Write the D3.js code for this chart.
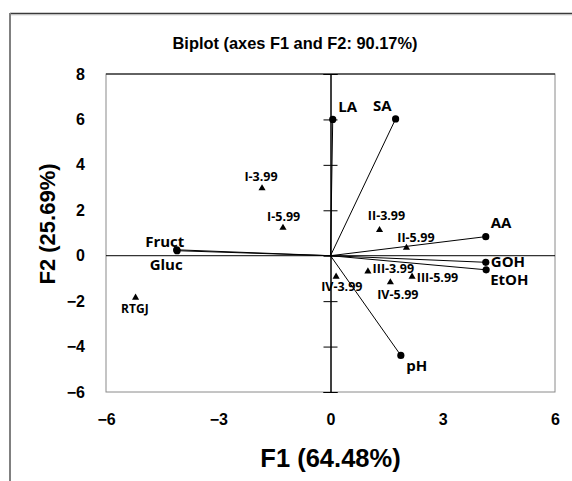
<!DOCTYPE html>
<html><head><meta charset="utf-8">
<script src="https://cdn.jsdelivr.net/npm/d3@7"></script>
<style>body{margin:0;background:#fff}svg{display:block}</style>
</head><body>
<script>
// ---- data ----
const varNames = ["LA","SA","AA","GOH","EtOH","pH","Fruct","Gluc"];
const varF1 = [0.06, 1.74, 4.15, 4.15, 4.16, 1.88, -4.11, -4.10];
const varF2 = [6.00, 6.02, 0.84, -0.29, -0.62, -4.39, 0.26, 0.22];
const obsNames = ["RTGJ","I-3.99","I-5.99","II-3.99","II-5.99","III-3.99","III-5.99","IV-3.99","IV-5.99"];
const obsF1 = [-5.21, -1.83, -1.27, 1.31, 2.03, 1.00, 2.18, 0.15, 1.60];
const obsF2 = [-1.85, 2.97, 1.23, 1.13, 0.35, -0.69, -0.92, -0.92, -1.17];
const xTicks = [-6,-3,0,3,6];
const yTicks = [-6,-4,-2,0,2,4,6,8];
const titleText = "Biplot (axes F1 and F2: 90.17%)";
const xTitle = "F1 (64.48%)";
const yTitle = "F2 (25.69%)";

// ---- label layout (pixel offsets, anchors) ----
const varLabelLayout = {
  LA:{dx:5.5,dy:-7.5,a:"start"}, SA:{dx:-4,dy:-8,a:"end"}, AA:{dx:5,dy:-9,a:"start"},
  GOH:{dx:5,dy:4.5,a:"start"}, EtOH:{dx:4,dy:15,a:"start"}, pH:{dx:5.3,dy:15.4,a:"start"},
  Fruct:{dx:7.6,dy:-3.3,a:"end"}, Gluc:{dx:5.6,dy:19.3,a:"end"}
};
const obsLabelLayout = {
  "RTGJ":{dx:-0.7,dy:15,a:"middle"}, "I-3.99":{dx:-1,dy:-7.3,a:"middle"},
  "I-5.99":{dx:0.7,dy:-7,a:"middle"}, "II-3.99":{dx:7,dy:-10,a:"middle"},
  "II-5.99":{dx:9.5,dy:-6,a:"middle"}, "III-3.99":{dx:4.7,dy:1.4,a:"start"},
  "III-5.99":{dx:4.7,dy:5.3,a:"start"}, "IV-3.99":{dx:5.7,dy:14.3,a:"middle"},
  "IV-5.99":{dx:7.5,dy:17,a:"middle"}
};

const W = 572, H = 481;
const svg = d3.select("body").append("svg").attr("width", W).attr("height", H);

// outer frame (cropped)
svg.append("line").attr("x1",10).attr("x2",W+5).attr("y1",13.5).attr("y2",13.5).attr("stroke","#3a3a3a").attr("stroke-width",1.4);
svg.append("line").attr("x1",10).attr("x2",W+5).attr("y1",14.8).attr("y2",14.8).attr("stroke","#bbb").attr("stroke-width",1);
svg.append("line").attr("x1",10).attr("x2",10).attr("y1",13).attr("y2",H+5).attr("stroke","#808080").attr("stroke-width",2);

const x = d3.scaleLinear().domain([-6,6]).range([106,555]);
const y = d3.scaleLinear().domain([-6,8]).range([392,74]);

// plot area border
svg.append("rect").attr("x",x(-6)).attr("y",y(8)).attr("width",x(6)-x(-6)).attr("height",y(-6)-y(8))
  .attr("fill","none").attr("stroke","#8a8a8a").attr("stroke-width",1);
svg.append("line").attr("x1",x(-6)).attr("x2",x(6)).attr("y1",y(8)).attr("y2",y(8)).attr("stroke","#000").attr("stroke-width",1);

// zero lines
svg.append("line").attr("x1",x(-6)).attr("x2",x(6)).attr("y1",y(0)).attr("y2",y(0)).attr("stroke","#000").attr("stroke-width",1);
// vertical axis with crossing ticks
const yaxL = svg.append("g").attr("transform",`translate(${x(0)},0)`)
  .call(d3.axisLeft(y).tickValues(yTicks).tickSize(7).tickFormat(""));
const yaxR = svg.append("g").attr("transform",`translate(${x(0)},0)`)
  .call(d3.axisRight(y).tickValues(yTicks).tickSize(7).tickFormat(""));
[yaxL,yaxR].forEach(g=>{g.selectAll("path").attr("stroke","#000").attr("stroke-width",1);
  g.selectAll("line").attr("stroke","#000").attr("stroke-width",1);});

// tick labels
const tickFont = "'Liberation Sans', Arial, sans-serif";
const yLab = svg.append("g").attr("transform","translate(85,0)")
  .call(d3.axisLeft(y).tickValues(yTicks).tickSize(0).tickPadding(0).tickFormat(d3.format("d")));
yLab.select(".domain").remove();
yLab.selectAll("text").attr("font-family",tickFont).attr("font-size",16).attr("font-weight","bold").attr("fill","#000");
const xLab = svg.append("g").attr("transform","translate(0,414)")
  .call(d3.axisBottom(x).tickValues(xTicks).tickSize(0).tickPadding(0).tickFormat(d3.format("d")));
xLab.select(".domain").remove();
xLab.selectAll("text").attr("font-family",tickFont).attr("font-size",16).attr("font-weight","bold").attr("fill","#000");

// titles
svg.append("text").attr("x",295).attr("y",48.5).attr("text-anchor","middle")
  .attr("font-family",tickFont).attr("font-size",16.4).attr("font-weight","bold").text(titleText);
svg.append("text").attr("x",330.5).attr("y",467).attr("text-anchor","middle")
  .attr("font-family",tickFont).attr("font-size",25.5).attr("font-weight","bold").text(xTitle);
svg.append("text").attr("transform","translate(55,224) rotate(-90)").attr("text-anchor","middle")
  .attr("font-family",tickFont).attr("font-size",22).attr("font-weight","bold").text(yTitle);

// variable vectors
const vars = varNames.map((n,i)=>({n, f1:varF1[i], f2:varF2[i]}));
svg.append("g").selectAll("line").data(vars).join("line")
  .attr("x1",x(0)).attr("y1",y(0)).attr("x2",d=>x(d.f1)).attr("y2",d=>y(d.f2))
  .attr("stroke","#000").attr("stroke-width",1);
svg.append("g").selectAll("circle").data(vars).join("circle")
  .attr("cx",d=>x(d.f1)).attr("cy",d=>y(d.f2)).attr("r",3.6).attr("fill","#000");
const lblFont = "'Open Sans', 'Noto Sans', sans-serif";
svg.append("g").selectAll("text").data(vars).join("text")
  .attr("x",d=>x(d.f1)+varLabelLayout[d.n].dx).attr("y",d=>y(d.f2)+varLabelLayout[d.n].dy)
  .attr("text-anchor",d=>varLabelLayout[d.n].a)
  .attr("font-family",lblFont).attr("font-size",15).attr("font-weight","bold").text(d=>d.n);

// observations
const obs = obsNames.map((n,i)=>({n, f1:obsF1[i], f2:obsF2[i]}));
const tri = d3.symbol().type(d3.symbolTriangle).size(22);
svg.append("g").selectAll("path").data(obs).join("path")
  .attr("d",tri).attr("transform",d=>`translate(${x(d.f1)},${y(d.f2)})`).attr("fill","#000");
svg.append("g").selectAll("text").data(obs).join("text")
  .attr("x",d=>x(d.f1)+obsLabelLayout[d.n].dx).attr("y",d=>y(d.f2)+obsLabelLayout[d.n].dy)
  .attr("text-anchor",d=>obsLabelLayout[d.n].a)
  .attr("font-family",lblFont).attr("font-size",d=>d.n==="RTGJ"?12:12.5).attr("font-weight","bold").text(d=>d.n);
</script>
</body></html>
